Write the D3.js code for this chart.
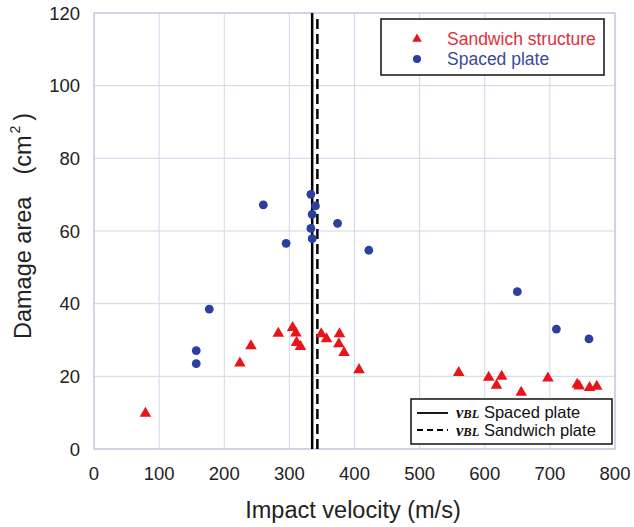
<!DOCTYPE html>
<html>
<head>
<meta charset="UTF-8">
<title>Damage area vs impact velocity</title>
<script src="https://d3js.org/d3.v7.min.js"></script>
<style>
  body { margin: 0; padding: 0; background: #fff; }
  text { font-family: 'Liberation Sans', Arial, sans-serif; }
</style>
</head>
<body>
<svg width="634" height="527"></svg>
<script>
// data: [velocity m/s, damage area cm2]
const sandwich = [
  [79, 9.8], [224, 23.6], [241, 28.4], [283, 31.8], [305, 33.4], [310, 31.9],
  [311, 29.3], [317, 28.2], [349, 31.7], [357, 30.3], [377, 31.7], [376, 28.9],
  [384, 26.5], [407, 21.8], [560, 21.0], [606, 19.7], [618, 17.5], [626, 20.0],
  [656, 15.6], [697, 19.5], [742, 17.8], [745, 17.3], [761, 16.9], [772, 17.2]
];
const spaced = [
  [157, 27.1], [157, 23.5], [177, 38.5], [260, 67.2], [295, 56.6], [333, 70.1],
  [340, 66.9], [335, 64.6], [333, 60.7], [335, 57.9], [374, 62.1], [422, 54.7],
  [650, 43.3], [710, 33.0], [760, 30.3]
];
const vblSpaced = 335;
const vblSandwich = 343;
const xTicks = [0, 100, 200, 300, 400, 500, 600, 700, 800];
const yTicks = [0, 20, 40, 60, 80, 100, 120];

const svg = d3.select("svg");
const pl = 94, pr = 615, pt = 13, pb = 449;

const x = d3.scaleLinear().domain([0, 800]).range([pl, pr]);
const y = d3.scaleLinear().domain([0, 120]).range([pb, pt]);

// grid
svg.append("g").selectAll("line").data(xTicks).enter().append("line")
  .attr("x1", d => x(d)).attr("x2", d => x(d))
  .attr("y1", pt).attr("y2", pb)
  .attr("stroke", "#d4d4ea").attr("stroke-width", 1);
svg.append("g").selectAll("line").data(yTicks).enter().append("line")
  .attr("x1", pl).attr("x2", pr)
  .attr("y1", d => y(d)).attr("y2", d => y(d))
  .attr("stroke", "#d4d4ea").attr("stroke-width", 1);
svg.append("rect")
  .attr("x", pl).attr("y", pt)
  .attr("width", pr - pl).attr("height", pb - pt)
  .attr("fill", "none").attr("stroke", "#c4c4dc").attr("stroke-width", 1.2);

// tick labels
svg.append("g").selectAll("text").data(xTicks).enter().append("text")
  .attr("x", d => x(d)).attr("y", 480)
  .attr("text-anchor", "middle").attr("font-size", 18.5).attr("fill", "#222")
  .text(d => d);
svg.append("g").selectAll("text").data(yTicks).enter().append("text")
  .attr("x", pl - 14).attr("y", d => y(d) + 6.5)
  .attr("text-anchor", "end").attr("font-size", 18.5).attr("fill", "#222")
  .text(d => d);

// axis titles
svg.append("text")
  .attr("x", 353).attr("y", 518)
  .attr("text-anchor", "middle").attr("font-size", 23.5).attr("fill", "#222")
  .text("Impact velocity (m/s)");
const yt = svg.append("text")
  .attr("transform", "translate(31,339) rotate(-90)")
  .attr("text-anchor", "start").attr("font-size", 23.5).attr("fill", "#222");
yt.append("tspan").text("Damage area");
yt.append("tspan").attr("dx", 22).text("(cm");
yt.append("tspan").attr("font-size", 14).attr("dx", 2).attr("dy", -11).text("2");
yt.append("tspan").attr("dx", 5).attr("dy", 11).text(")");

// vBL lines
svg.append("line")
  .attr("x1", x(vblSpaced)).attr("x2", x(vblSpaced))
  .attr("y1", pt).attr("y2", pb)
  .attr("stroke", "#000").attr("stroke-width", 2.5);
svg.append("line")
  .attr("x1", x(vblSandwich)).attr("x2", x(vblSandwich))
  .attr("y1", pt + 6).attr("y2", pb)
  .attr("stroke", "#000").attr("stroke-width", 2.5)
  .attr("stroke-dasharray", "10,5");

// markers
const tri = d3.symbol().type(d3.symbolTriangle).size(58);
svg.append("g").selectAll("path").data(sandwich).enter().append("path")
  .attr("d", tri)
  .attr("transform", d => "translate(" + x(d[0]) + "," + y(d[1]) + ")")
  .attr("fill", "#e8141c");
svg.append("g").selectAll("circle").data(spaced).enter().append("circle")
  .attr("cx", d => x(d[0])).attr("cy", d => y(d[1])).attr("r", 4.4)
  .attr("fill", "#2a3f9e");

// top legend
const lg = svg.append("g");
lg.append("rect").attr("x", 381).attr("y", 19).attr("width", 223).attr("height", 56)
  .attr("fill", "#fff").attr("stroke", "#111").attr("stroke-width", 1.5);
lg.append("path").attr("d", d3.symbol().type(d3.symbolTriangle).size(40))
  .attr("transform", "translate(417,39)").attr("fill", "#e8141c");
lg.append("circle").attr("cx", 417).attr("cy", 59).attr("r", 4).attr("fill", "#2a3f9e");
lg.append("text").attr("x", 447).attr("y", 45).attr("font-size", 17.5)
  .attr("fill", "#e0303a").text("Sandwich structure");
lg.append("text").attr("x", 447).attr("y", 65).attr("font-size", 17.5)
  .attr("fill", "#3a4a9a").text("Spaced plate");

// bottom legend
const lb = svg.append("g");
lb.append("rect").attr("x", 411).attr("y", 399).attr("width", 201).attr("height", 45)
  .attr("fill", "#fff").attr("stroke", "#111").attr("stroke-width", 1.5);
lb.append("line").attr("x1", 417).attr("x2", 448).attr("y1", 413).attr("y2", 413)
  .attr("stroke", "#000").attr("stroke-width", 1.8);
lb.append("line").attr("x1", 417).attr("x2", 448).attr("y1", 430).attr("y2", 430)
  .attr("stroke", "#000").attr("stroke-width", 1.8).attr("stroke-dasharray", "6,4");
const labels = ["Spaced plate", "Sandwich plate"];
labels.forEach((t, i) => {
  const tx = lb.append("text").attr("x", 456).attr("y", 418 + i * 18).attr("font-size", 16.5).attr("fill", "#111");
  tx.append("tspan").attr("font-family", "'Liberation Serif', serif").attr("font-style", "italic")
    .attr("font-weight", "bold").text("v");
  tx.append("tspan").attr("font-family", "'Liberation Serif', serif").attr("font-style", "italic")
    .attr("font-weight", "bold").attr("font-size", 12.5).text("BL");
  tx.append("tspan").text(" " + t);
});
</script>
</body>
</html>
